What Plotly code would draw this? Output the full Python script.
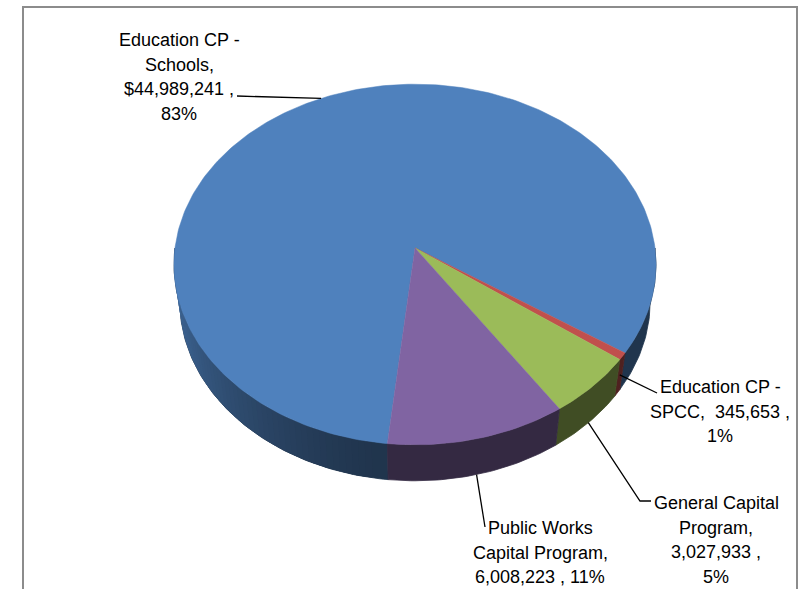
import numpy as np
import plotly.graph_objects as go

# ---------------- data ----------------
categories = ["Education CP - Schools", "Education CP - SPCC",
              "General Capital Program", "Public Works Capital Program"]
values = [44989241, 345653, 3027933, 6008223]
label_lines = [
    ["Education CP -", "Schools,", "$44,989,241 ,", "83%"],
    ["Education CP -", "SPCC,&nbsp; 345,653 ,", "1%"],
    ["General Capital", "Program,", "3,027,933 ,", "5%"],
    ["Public Works", "Capital Program,", "6,008,223 , 11%"],
]

# ---------------- style / geometry ----------------
top_colors = ["#4F81BD", "#C0504D", "#9BBB59", "#8064A2"]
START = 186.0          # first slice starts here (deg, clockwise from 12 o'clock)
CX, CY = 415.0, 248.0  # projected pie centre (px)
F = 1752.0
CAM_D = 7.3
SIN_A = 0.745
COS_A = float(np.sqrt(1 - SIN_A ** 2))
T = 0.24               # pie thickness (in radius units)

# label block layout: (centre x, first-line y), leader path end points, anchor height
label_pos = [(179, 40), (720, 387), (716, 503), (540, 528)]
leader_ends = [[(237, 96)], [(657, 393)], [(640, 501), (651, 501)], [(485, 527)]]
anchor_h = [0.0, -0.12, -T, -T]
LINE_SP = 24.5


def proj(psi_deg, h):
    p = np.radians(psi_deg)
    x = np.sin(p)
    z = -np.cos(p)
    Y = h * COS_A - z * SIN_A
    d = CAM_D - h * SIN_A - z * COS_A
    return CX + F * x / d, CY - F * Y / d


def hex2rgb(h):
    h = h.lstrip("#")
    return [int(h[i:i + 2], 16) for i in (0, 2, 4)]


def shade(hexc, f):
    r, g, b = hex2rgb(hexc)
    return "rgb(%d,%d,%d)" % (round(r * f), round(g * f), round(b * f))


def side_factor(psi):
    s = np.clip((psi - 190.0) / 70.0, 0, 1) ** 1.2
    return 0.41 + 0.39 * s


total = float(sum(values))
fracs = [v / total for v in values]
bounds = [START]
for fr in fracs:
    bounds.append(bounds[-1] + fr * 360.0)

fig = go.Figure()


def side_poly(p, q, n):
    ang = np.linspace(p, q, n)
    tx, ty = proj(ang, 0.0)
    bx, by = proj(ang[::-1], -T)
    return (np.concatenate([tx, bx, tx[:1]]), np.concatenate([ty, by, ty[:1]]))


# visible side ranges for each slice (front half 90..270 deg)
ranges = []
for i in range(len(values)):
    a0, a1 = bounds[i], bounds[i + 1]
    for off in (-360.0, 0.0, 360.0):
        lo = max(a0 + off, 90.0)
        hi = min(a1 + off, 270.0)
        if hi > lo:
            ranges.append((i, lo, hi))
ranges.sort(key=lambda r: -np.cos(np.radians(0.5 * (r[1] + r[2]))))

# ---------------- side wall ----------------
for i, lo, hi in ranges:
    base = shade(top_colors[i], side_factor(lo))
    xs, ys = side_poly(lo, hi, max(3, int(hi - lo) + 2))
    fig.add_trace(go.Scatter(x=xs, y=ys, mode="lines", fill="toself",
                             fillcolor=base, line=dict(color=base, width=0.8),
                             hoverinfo="skip", showlegend=False))
    # gradient overlay where lighting changes
    g_lo = max(lo, 190.0)
    if hi > g_lo:
        edges = np.arange(g_lo, hi + 1e-9, 1.5)
        if edges[-1] < hi:
            edges = np.append(edges, hi)
        for p, q in zip(edges[:-1], edges[1:]):
            mid = 0.5 * (p + q)
            col = shade(top_colors[i], side_factor(mid))
            xs, ys = side_poly(max(lo, p - 0.5), min(hi, q + 0.5), 3)
            fig.add_trace(go.Scatter(x=xs, y=ys, mode="lines", fill="toself",
                                     fillcolor=col, line=dict(width=0),
                                     hoverinfo="skip", showlegend=False))

# ---------------- top faces ----------------
for i in range(len(values)):
    a0, a1 = bounds[i], bounds[i + 1]
    n = max(3, int(abs(a1 - a0)))
    ang = np.linspace(a0, a1, n)
    ax_, ay_ = proj(ang, 0.0)
    xs = np.concatenate([[CX], ax_, [CX]])
    ys = np.concatenate([[CY], ay_, [CY]])
    fig.add_trace(go.Scatter(x=xs, y=ys, mode="lines", fill="toself",
                             fillcolor=top_colors[i],
                             line=dict(color=top_colors[i], width=0.5),
                             hoverinfo="skip", showlegend=False,
                             name=categories[i]))

# ---------------- leader lines & labels ----------------
for i in range(len(values)):
    mid = 0.5 * (bounds[i] + bounds[i + 1])
    sx, sy = proj(mid, anchor_h[i])
    xs = [float(sx)] + [p[0] for p in leader_ends[i]]
    ys = [float(sy)] + [p[1] for p in leader_ends[i]]
    fig.add_trace(go.Scatter(x=xs, y=ys, mode="lines",
                             line=dict(color="black", width=1.3),
                             hoverinfo="skip", showlegend=False))
    lx, ly = label_pos[i]
    for k, txt in enumerate(label_lines[i]):
        fig.add_annotation(x=lx, y=ly + k * LINE_SP, text=txt, showarrow=False,
                           xanchor="center", yanchor="middle",
                           font=dict(family="Liberation Sans, Arial, sans-serif",
                                     size=18, color="black"))

fig.add_shape(type="rect", x0=23, x1=797, y0=7, y1=620,
              line=dict(color="#8c8c8c", width=2), layer="above")

fig.update_layout(
    width=800, height=589,
    margin=dict(l=0, r=0, t=0, b=0),
    paper_bgcolor="white", plot_bgcolor="white",
    xaxis=dict(range=[0, 800], visible=False, fixedrange=True),
    yaxis=dict(range=[589, 0], visible=False, fixedrange=True),
    showlegend=False,
)

fig.write_html("out.html")
